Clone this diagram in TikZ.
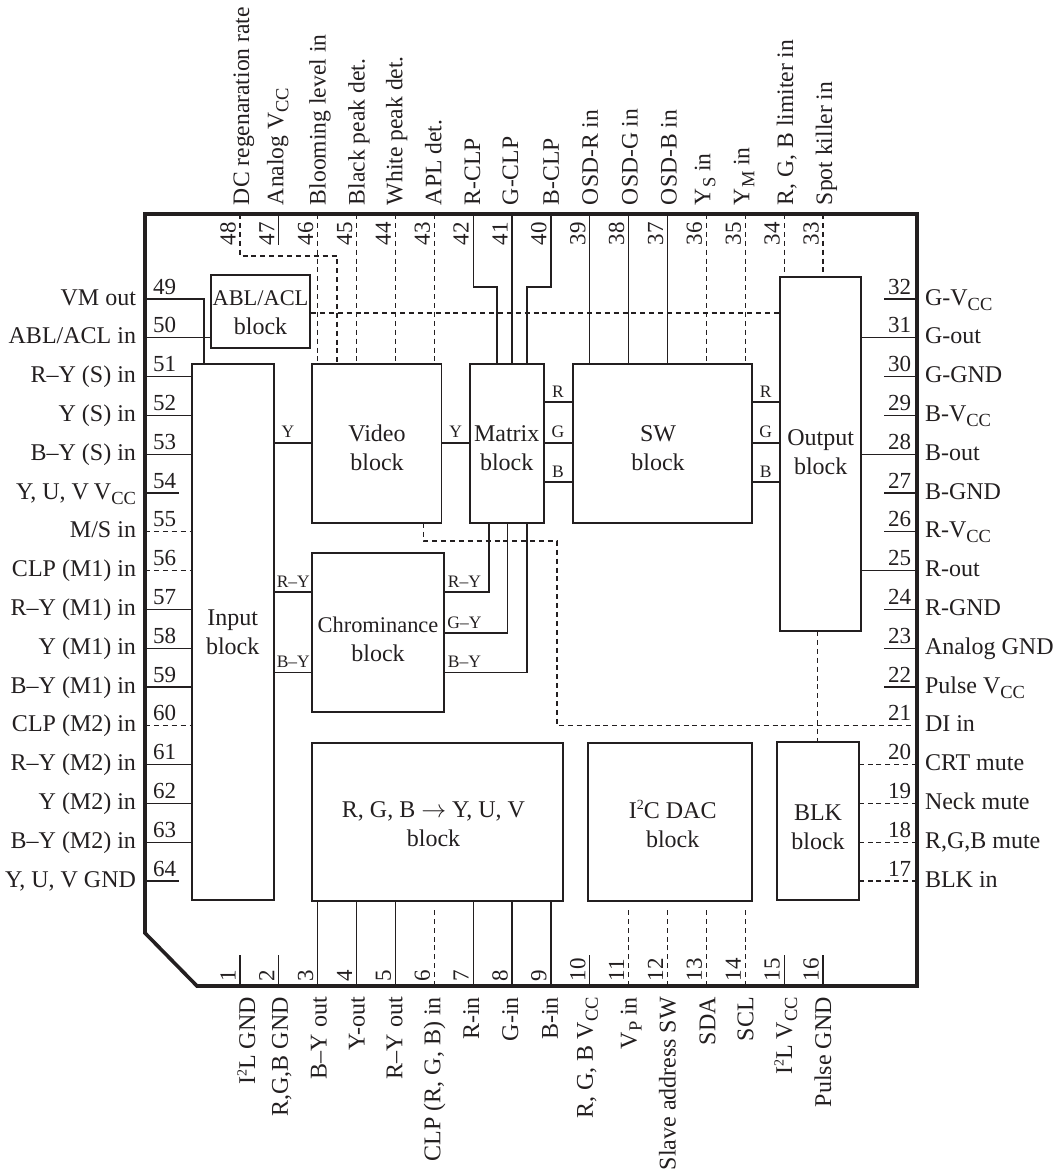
\documentclass[tikz,border=0pt]{standalone}
\usepackage{fontspec}
\setmainfont{Liberation Serif}
\definecolor{ink}{HTML}{231F20}
\newcommand{\subs}[1]{\raisebox{-5pt}{\fontsize{18.5}{18.5}\selectfont #1}}
\newcommand{\supt}[1]{\raisebox{8.5pt}{\fontsize{14}{14}\selectfont #1}}
\newcommand{\blk}[5]{\node[blockbox,minimum width={(#4)*1pt-(#2)*1pt},minimum height={(#5)*1pt-(#3)*1pt}] (#1) at ({(#2+#4)/2},{(#3+#5)/2}) {};}
\newcommand{\blt}[5]{\node[maintext,anchor=base] (#1a) at (#2,#3) {#4};\node[maintext,anchor=base] (#1b) at (#2,#3+29) {#5};}
\tikzset{
  every node/.style={text=ink,inner sep=0pt,outer sep=0pt},
  maintext/.style={font=\fontsize{24}{28}\selectfont},
  toptext/.style={font=\fontsize{23.6}{28}\selectfont},
  numtext/.style={font=\fontsize{23}{26}\selectfont},
  smalltext/.style={font=\fontsize{17.5}{20}\selectfont,anchor=base},
  blockbox/.style={draw=ink,line width=1.5pt,fill=white,rectangle},
  wire/.style={draw=ink,line width=1.2pt},
  dwire/.style={draw=ink,line width=1.2pt,dash pattern=on 5pt off 3.9pt},
  outline/.style={draw=ink,line width=3.6pt,line join=miter}
}
\begin{document}
\begin{tikzpicture}[x=1pt,y=-1pt]
\useasboundingbox[fill=white] (0,0) rectangle (1063,1171);
% pin coordinates
\foreach \i in {49,...,64} \coordinate (p\i) at (145,{299+38.8*(\i-49)});
\foreach \i in {17,...,32} \coordinate (p\i) at (917,{299+38.8*(32-\i)});
\foreach \i in {33,...,48} \coordinate (p\i) at ({240+38.87*(48-\i)},214);
\foreach \i in {1,...,16} \coordinate (p\i) at ({240+38.87*(\i-1)},986);
\coordinate (gapy) at (0,907);
% wires below blocks
\coordinate (hl) at (311,313);
\coordinate (hr) at (780,313);
\draw[dwire] (hl) -- (hr);
% blocks
\blk{abl}{211}{275}{310}{348}
\blk{input}{192}{364}{274}{900}
\blk{video}{312}{364}{441.5}{523}
\blk{matrix}{470}{364}{544}{523}
\blk{sw}{573}{364}{752}{523}
\blk{output}{780}{277}{861}{631}
\blk{chroma}{312}{553}{444}{712}
\blk{conv}{312}{743}{563}{901}
\blk{dac}{588}{743}{752}{901}
\blk{blank}{777}{742}{859}{900}
\node[maintext,anchor=base,font=\fontsize{22.4}{26}\selectfont] (abla) at (260.5,305) {ABL/ACL};
\node[maintext,anchor=base] (ablb) at (260.5,334) {block};
\blt{input}{232.7}{625.7}{Input}{block}
\blt{video}{377}{441.7}{Video}{block}
\blt{matrix}{506.7}{441.7}{Matrix}{block}
\blt{sw}{658}{441.7}{SW}{block}
\blt{output}{820.7}{445}{Output}{block}
\node[maintext,anchor=base,font=\fontsize{22.4}{26}\selectfont] (chromaa) at (378,632.7) {Chrominance};
\node[maintext,anchor=base] (chromab) at (378,661.7) {block};
\blt{conv}{433.5}{817.7}{R, G, B $\rightarrow$ Y, U, V}{block}
\blt{dac}{672.7}{818}{I\supt{2}C DAC}{block}
\blt{blank}{818}{820.5}{BLK}{block}
% left wires
\coordinate (vmx) at (204,299);
\draw[wire] (p49) -- (vmx) -- (vmx |- input.north);
\draw[wire] (p50) -- (p50 -| abl.west);
\foreach \i in {51,52,53,57,58,59,61,62,63} \draw[wire] (p\i) -- (p\i -| input.west);
\foreach \i in {55,56,60} \draw[dwire] (p\i) -- (p\i -| input.west);
\foreach \i in {54,64} \draw[wire] (p\i) -- ++(34,0);
% right wires
\foreach \i in {32,30,29,27,26,24,23,22} \draw[wire] (p\i) -- ++(-33,0);
\foreach \i in {31,28,25} \draw[wire] (p\i) -- (p\i -| output.east);
\foreach \i in {20,19,18,17} \draw[dwire] (p\i) -- (p\i -| blank.east);
% top wires
\foreach \i in {47} \draw[wire] (p\i) -- ++(0,31);
\foreach \i in {46,45,44,43} \draw[dwire] (p\i) -- (p\i |- video.north);
\foreach \i in {39,38,37} \draw[wire] (p\i) -- (p\i |- sw.north);
\foreach \i in {36,35} \draw[dwire] (p\i) -- (p\i |- sw.north);
\foreach \i in {34,33} \draw[dwire] (p\i) -- (p\i |- output.north);
\coordinate (a48) at (337,256);
\draw[dwire] (p48) -- (p48 |- a48) -- (a48) -- (a48 |- video.north);
\coordinate (a42) at (497,287);
\coordinate (a40) at (527,287);
\draw[wire] (p42) -- (p42 |- a42) -- (a42) -- (a42 |- matrix.north);
\draw[wire] (p41) -- (p41 |- matrix.north);
\draw[wire] (p40) -- (p40 |- a40) -- (a40) -- (a40 |- matrix.north);
% bottom wires
\foreach \i in {1,2,10,15,16} \draw[wire] (p\i) -- ++(0,-31);
\foreach \i in {3,4,5,7,8,9} \draw[wire] (p\i) -- (p\i |- conv.south);
\foreach \i in {6,11,12,13,14} \draw[dwire] (p\i) -- (p\i |- gapy);
% internal signal wires
\coordinate (ya) at (0,443);
\draw[wire] (input.east |- ya) -- (video.west |- ya);
\draw[wire] (video.east |- ya) -- (matrix.west |- ya);
\foreach \y in {402,443,482} {
  \draw[wire] (matrix.east |- 0,\y) -- (sw.west |- 0,\y);
  \draw[wire] (sw.east |- 0,\y) -- (output.west |- 0,\y);
}
\coordinate (ry) at (489,592);
\coordinate (gy) at (507.7,633);
\coordinate (by) at (527,672.3);
\draw[wire] (input.east |- ry) -- (chroma.west |- ry);
\draw[wire] (input.east |- by) -- (chroma.west |- by);
\draw[wire] (chroma.east |- ry) -- (ry) -- (ry |- matrix.south);
\draw[wire] (chroma.east |- gy) -- (gy) -- (gy |- matrix.south);
\draw[wire] (chroma.east |- by) -- (by) -- (by |- matrix.south);
% dashed DI line
\coordinate (d1) at (423.5,541);
\coordinate (d2) at (557,541);
\draw[dwire] (d1 |- video.south) -- (d1) -- (d2) -- (d2 |- p21) -- (p21);
\coordinate (bk) at (817.5,631);
\draw[dwire] (bk) -- (bk |- blank.north);
% small signal labels
\node[smalltext] (sy1) at (288,437) {Y};
\node[smalltext] (sy2) at (455.7,437) {Y};
\node[smalltext] (sr1) at (558,397) {R};
\node[smalltext] (sg1) at (558,437.5) {G};
\node[smalltext] (sb1) at (558,477) {B};
\node[smalltext] (sr2) at (765.7,397) {R};
\node[smalltext] (sg2) at (765.7,437.5) {G};
\node[smalltext] (sb2) at (765.7,477) {B};
\node[smalltext] (cl1) at (293.3,587) {R–Y};
\node[smalltext] (cl2) at (293.3,667) {B–Y};
\node[smalltext] (cr1) at (464.5,587) {R–Y};
\node[smalltext] (cr2) at (464.5,628) {G–Y};
\node[smalltext] (cr3) at (464.5,667) {B–Y};
% left labels
\foreach \i/\t in {49/VM out,50/ABL\slash ACL in,51/R–Y (S) in,52/Y (S) in,53/B–Y (S) in,54/{Y, U, V\ \kern-1pt V\subs{CC}},55/M\slash S in,56/CLP (M1) in,57/R–Y (M1) in,58/Y (M1) in,59/B–Y (M1) in,60/CLP (M2) in,61/R–Y (M2) in,62/Y (M2) in,63/B–Y (M2) in,64/{Y, U, V GND}} {
  \node[numtext,anchor=base west] (n\i) at ([xshift=8pt,yshift=5pt]p\i) {\i};
  \node[maintext,anchor=base east] (l\i) at ([xshift=-9pt,yshift=-6pt]p\i) {\t};
}
% right labels
\foreach \i/\t in {32/G-V\subs{CC},31/G-out,30/G-GND,29/B-V\subs{CC},28/B-out,27/B-GND,26/R-V\subs{CC},25/R-out,24/R-GND,23/Analog GND,22/Pulse V\subs{CC},21/DI in,20/CRT mute,19/Neck mute,18/{R,G,B mute},17/BLK in} {
  \node[numtext,anchor=base east] (n\i) at ([xshift=-6pt,yshift=5pt]p\i) {\i};
  \node[maintext,anchor=base west] (l\i) at ([xshift=8pt,yshift=-6pt]p\i) {\t};
}
% top labels
\foreach \i in {33,...,48} \node[numtext,anchor=base west,rotate=90] (n\i) at ([xshift=-4.5pt,yshift=-31pt]p\i) {\i};
\foreach \i/\t/\o in {48/DC regenaration rate/9,47/Analog V\subs{CC}/4.5,46/Blooming level in/8,45/Black peak det./8,44/White peak det./7,43/APL det./7,42/R-CLP/7,41/G-CLP/6,40/B-CLP/8,39/OSD-R in/8,38/OSD-G in/9,37/OSD-B in/9,36/Y\subs{S} in/4,35/Y\subs{M} in/4,34/{R, G, B limiter in}/9,33/Spot killer in/9}
  \node[toptext,anchor=base west,rotate=90] (l\i) at ([xshift=\o pt,yshift=9pt]p\i) {\t};
% bottom labels
\foreach \i in {1,...,16} \node[numtext,anchor=base west,rotate=90] (n\i) at ([xshift=-4.5pt,yshift=5pt]p\i) {\i};
\foreach \i/\t/\o in {1/I\supt{2}L GND/15,2/{R,G,B GND}/9,3/B–Y out/9,4/Y-out/8,5/R–Y out/7,6/{CLP (R, G, B) in}/6,7/R-in/6,8/G-in/6,9/B-in/7,10/{R, G, B V\subs{CC}}/3,11/V\subs{P} in/8,12/Slave address SW/8,13/SDA/9,14/SCL/8,15/I\supt{2}L V\subs{CC}/8,16/Pulse GND/8}
  \node[maintext,anchor=base east,rotate=90] (l\i) at ([xshift=\o pt,yshift=-11pt]p\i) {\t};
% package outline
\coordinate (o1) at (145,214);
\coordinate (o2) at (917,214);
\coordinate (o3) at (917,986);
\coordinate (o4) at (197,986);
\coordinate (o5) at (145,933);
\draw[outline] (o1) -- (o2) -- (o3) -- (o4) -- (o5) -- cycle;
\end{tikzpicture}
\end{document}
